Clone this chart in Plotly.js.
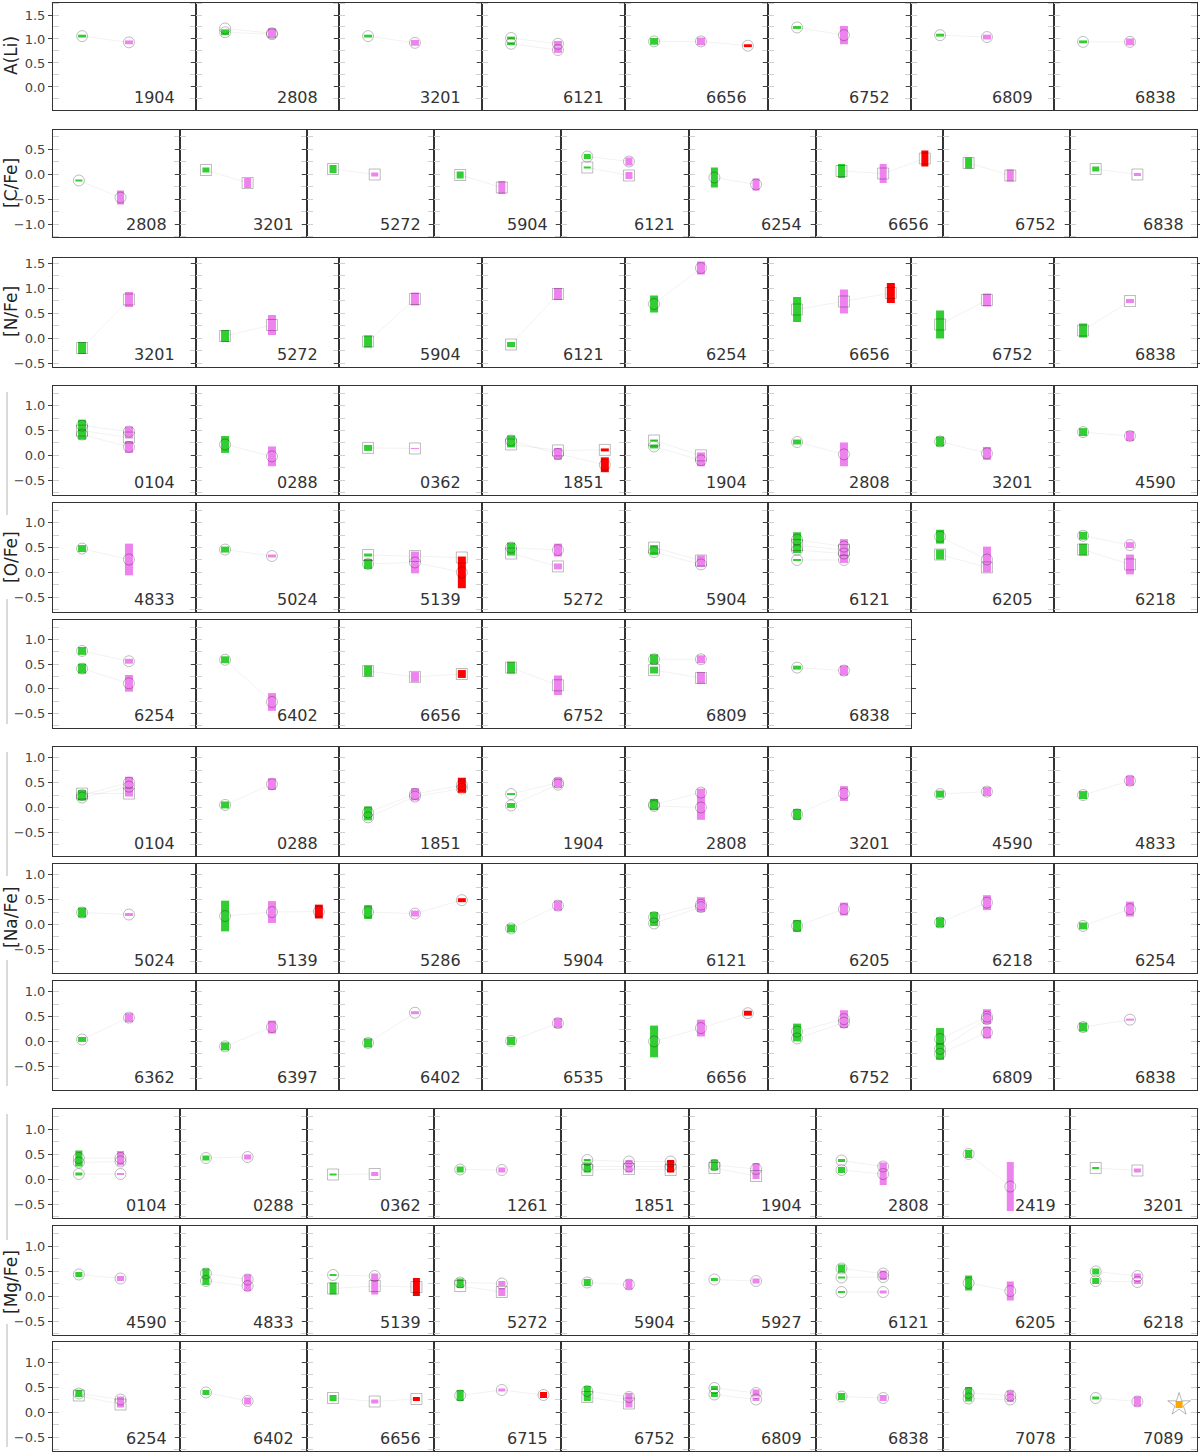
<!DOCTYPE html>
<html>
<head>
<meta charset="utf-8">
<script src="https://cdn.plot.ly/plotly-3.0.1.min.js"></script>
<style>
  body { margin: 0; background: #fff; }
  #chart { width: 1200px; height: 1452px; }
</style>
</head>
<body>
<div id="chart"></div>
<script>
// Each study: [symbol, P1 value, P1 half-range, P2 value, P2 half-range, P3 value, P3 half-range]
// symbol 'c' = circle, 's' = square; P3 is optional

const liClusters = ['1904', '2808', '3201', '6121', '6656', '6752', '6809', '6838'];
const liData = [
    [['c', 1.06, 0.03, 0.93, 0.04]],
    [['c', 1.22, 0, 1.12, 0.1], ['c', 1.14, 0.06, 1.10, 0]],
    [['c', 1.06, 0.03, 0.92, 0.06]],
    [['c', 1.02, 0.03, 0.90, 0.06], ['c', 0.90, 0.03, 0.77, 0.06]],
    [['c', 0.95, 0.07, 0.95, 0.08, 0.86, 0.03]],
    [['c', 1.24, 0.03, 1.08, 0.19]],
    [['c', 1.08, 0.03, 1.04, 0.05]],
    [['c', 0.94, 0.03, 0.94, 0.07]]
];

const cClusters = ['2808', '3201', '5272', '5904', '6121', '6254', '6656', '6752', '6838'];
const cData = [
    [['c', -0.13, 0.02, -0.47, 0.14]],
    [['s', 0.08, 0.05, -0.18, 0.1]],
    [['s', 0.1, 0.08, -0.01, 0.04]],
    [['s', -0.02, 0.07, -0.27, 0.13]],
    [['c', 0.35, 0.05, 0.25, 0.08], ['s', 0.13, 0.02, -0.03, 0.07]],
    [['c', -0.07, 0.2, -0.21, 0.12]],
    [['s', 0.06, 0.14, 0.01, 0.19, 0.31, 0.16]],
    [['s', 0.22, 0.11, -0.03, 0.12]],
    [['s', 0.1, 0.05, -0.01, 0.03]]
];

const nClusters = ['3201', '5272', '5904', '6121', '6254', '6656', '6752', '6838'];
const nData = [
    [['s', -0.2, 0.12, 0.77, 0.15]],
    [['s', 0.04, 0.12, 0.26, 0.2]],
    [['s', -0.07, 0.12, 0.78, 0.13]],
    [['s', -0.13, 0.05, 0.88, 0.12]],
    [['c', 0.68, 0.17, 1.4, 0.13]],
    [['s', 0.57, 0.25, 0.73, 0.24, 0.9, 0.2]],
    [['s', 0.27, 0.28, 0.76, 0.13]],
    [['s', 0.15, 0.14, 0.74, 0.04]]
];

const oClusters = ['0104', '0288', '0362', '1851', '1904', '2808', '3201', '4590',
    '4833', '5024', '5139', '5272', '5904', '6121', '6205', '6218',
    '6254', '6402', '6656', '6752', '6809', '6838'];
const oData = [
    [['c', 0.6, 0.12, 0.48, 0.1], ['c', 0.42, 0.1, 0.17, 0.12], ['s', 0.5, 0.04, 0.36, 0.02]],
    [['c', 0.22, 0.17, -0.02, 0.2]],
    [['s', 0.15, 0.06, 0.14, 0.01]],
    [['c', 0.3, 0.1, 0.03, 0.12, -0.19, 0.15], ['s', 0.22, 0.06, 0.1, 0.04, 0.11, 0.03]],
    [['s', 0.3, 0.02, 0.0, 0.06], ['c', 0.18, 0.04, -0.1, 0.12]],
    [['c', 0.27, 0.05, 0.02, 0.24]],
    [['c', 0.28, 0.1, 0.04, 0.13]],
    [['c', 0.47, 0.08, 0.39, 0.1]],
    [['c', 0.48, 0.07, 0.26, 0.32]],
    [['c', 0.46, 0.06, 0.33, 0.03]],
    [['c', 0.17, 0.1, 0.2, 0.22, 0.0, 0.32], ['s', 0.35, 0.03, 0.33, 0, 0.3, 0]],
    [['c', 0.5, 0.1, 0.45, 0.13], ['s', 0.38, 0.04, 0.12, 0.06]],
    [['s', 0.5, 0.05, 0.24, 0.1], ['c', 0.41, 0.06, 0.16, 0.05]],
    [['c', 0.66, 0.15, 0.52, 0.15], ['c', 0.45, 0.06, 0.38, 0.12], ['c', 0.25, 0.02, 0.25, 0.06], ['s', 0.55, 0.05, 0.45, 0.05]],
    [['c', 0.72, 0.14, 0.26, 0.26], ['s', 0.36, 0.1, 0.1, 0.05]],
    [['c', 0.74, 0.08, 0.55, 0.06], ['s', 0.46, 0.12, 0.16, 0.2]],
    [['c', 0.77, 0.08, 0.56, 0.05], ['c', 0.41, 0.1, 0.11, 0.17]],
    [['c', 0.59, 0.07, -0.27, 0.18]],
    [['s', 0.36, 0.11, 0.24, 0.1, 0.3, 0.08]],
    [['s', 0.43, 0.12, 0.07, 0.2]],
    [['c', 0.6, 0.1, 0.6, 0.08], ['s', 0.38, 0.07, 0.22, 0.12]],
    [['c', 0.43, 0.04, 0.37, 0.1]]
];

const naClusters = ['0104', '0288', '1851', '1904', '2808', '3201', '4590', '4833',
    '5024', '5139', '5286', '5904', '6121', '6205', '6218', '6254',
    '6362', '6397', '6402', '6535', '6656', '6752', '6809', '6838'];
const naData = [
    [['c', 0.25, 0.1, 0.5, 0.12], ['c', 0.2, 0.06, 0.42, 0.1], ['s', 0.28, 0.04, 0.28, 0.06]],
    [['c', 0.05, 0.07, 0.47, 0.12]],
    [['c', -0.1, 0.12, 0.27, 0.12, 0.45, 0.15], ['c', -0.2, 0.06, 0.22, 0.08, 0.38, 0.08]],
    [['c', 0.27, 0.02, 0.5, 0.1], ['c', 0.04, 0.05, 0.46, 0.05]],
    [['c', 0.06, 0.11, 0.3, 0.08], ['c', 0.03, 0.05, 0.0, 0.25]],
    [['c', -0.14, 0.11, 0.28, 0.15]],
    [['c', 0.27, 0.07, 0.32, 0.09]],
    [['c', 0.25, 0.08, 0.54, 0.1]],
    [['c', 0.24, 0.1, 0.2, 0.03]],
    [['c', 0.17, 0.31, 0.25, 0.22, 0.26, 0.14]],
    [['c', 0.25, 0.14, 0.22, 0.06, 0.49, 0.04]],
    [['c', -0.08, 0.08, 0.38, 0.1]],
    [['c', 0.15, 0.1, 0.4, 0.15], ['c', 0.02, 0.05, 0.35, 0.08]],
    [['c', -0.03, 0.12, 0.31, 0.13]],
    [['c', 0.04, 0.1, 0.44, 0.15]],
    [['c', -0.03, 0.07, 0.31, 0.15]],
    [['c', 0.04, 0.05, 0.48, 0.09]],
    [['c', -0.1, 0.08, 0.29, 0.13]],
    [['c', -0.03, 0.09, 0.58, 0.03]],
    [['c', 0.01, 0.08, 0.37, 0.1]],
    [['c', 0.0, 0.32, 0.27, 0.17, 0.57, 0.05]],
    [['c', 0.2, 0.16, 0.45, 0.18], ['c', 0.06, 0.06, 0.38, 0.08]],
    [['c', 0.05, 0.22, 0.5, 0.15], ['c', -0.15, 0.1, 0.45, 0.08], ['c', -0.25, 0.12, 0.18, 0.12]],
    [['c', 0.29, 0.09, 0.44, 0.02]]
];

const mgClusters = ['0104', '0288', '0362', '1261', '1851', '1904', '2808', '2419', '3201',
    '4590', '4833', '5139', '5272', '5904', '5927', '6121', '6205', '6218',
    '6254', '6402', '6656', '6715', '6752', '6809', '6838', '7078', '7089'];
const mgData = [
    [['c', 0.42, 0.15, 0.42, 0.14], ['c', 0.33, 0.08, 0.35, 0.08], ['c', 0.1, 0.03, 0.1, 0.02]],
    [['c', 0.42, 0.05, 0.44, 0.05]],
    [['s', 0.09, 0.02, 0.1, 0.04]],
    [['c', 0.19, 0.06, 0.18, 0.05]],
    [['c', 0.38, 0.02, 0.35, 0.03, 0.35, 0.03], ['c', 0.25, 0.08, 0.25, 0.12, 0.25, 0.12], ['s', 0.18, 0.05, 0.2, 0.03, 0.18, 0.03]],
    [['c', 0.28, 0.11, 0.2, 0.12], ['s', 0.22, 0.04, 0.06, 0.06]],
    [['c', 0.37, 0.03, 0.25, 0.08], ['c', 0.18, 0.06, 0.1, 0.22]],
    [['c', 0.5, 0.08, -0.15, 0.49]],
    [['s', 0.22, 0.02, 0.17, 0.04]],
    [['c', 0.43, 0.05, 0.35, 0.05]],
    [['c', 0.45, 0.1, 0.33, 0.1], ['c', 0.3, 0.08, 0.2, 0.1]],
    [['c', 0.42, 0.02, 0.4, 0.05], ['s', 0.15, 0.12, 0.2, 0.17, 0.18, 0.18]],
    [['c', 0.27, 0.08, 0.25, 0.05], ['s', 0.2, 0.04, 0.08, 0.08]],
    [['c', 0.27, 0.07, 0.23, 0.1]],
    [['c', 0.33, 0.03, 0.3, 0.05]],
    [['c', 0.55, 0.08, 0.45, 0.06], ['c', 0.37, 0.02, 0.38, 0.06], ['c', 0.08, 0.02, 0.08, 0.03]],
    [['c', 0.26, 0.15, 0.1, 0.19]],
    [['c', 0.49, 0.06, 0.4, 0.05], ['c', 0.3, 0.06, 0.28, 0.04]],
    [['c', 0.37, 0.07, 0.25, 0.06], ['s', 0.33, 0.02, 0.15, 0.06]],
    [['c', 0.39, 0.05, 0.22, 0.07]],
    [['s', 0.28, 0.06, 0.21, 0.04, 0.26, 0.04]],
    [['c', 0.33, 0.11, 0.44, 0.03, 0.34, 0.06]],
    [['c', 0.42, 0.1, 0.3, 0.08], ['s', 0.3, 0.08, 0.17, 0.08]],
    [['c', 0.48, 0.04, 0.38, 0.07], ['c', 0.35, 0.05, 0.25, 0.03]],
    [['c', 0.31, 0.07, 0.28, 0.06]],
    [['c', 0.38, 0.12, 0.33, 0.1], ['c', 0.27, 0.06, 0.25, 0.05]],
    [['c', 0.28, 0.03, 0.21, 0.1]]
];

// single extra point (star) in the last Mg panel
const starCluster = '7089';
const starValue = [0.15];

// ---------- panel rows (pixel layout) ----------
const W = 1200, H = 1452;
const LEFT = 53, RIGHT = 1197;
const popColors = ['#32cd32', '#ee82ee', '#ff0000'];

const rowSpecs = [
    { clusters: liClusters, data: liData, top: 3, bottom: 110, range: [-0.48, 1.75], ncol: 8 },
    { clusters: cClusters, data: cData, top: 130, bottom: 237, range: [-1.26, 0.88], ncol: 9 },
    { clusters: nClusters, data: nData, top: 258, bottom: 367, range: [-0.58, 1.6], ncol: 8 },
    { clusters: oClusters.slice(0, 8), data: oData.slice(0, 8), top: 386, bottom: 495, range: [-0.8, 1.4], ncol: 8 },
    { clusters: oClusters.slice(8, 16), data: oData.slice(8, 16), top: 503, bottom: 612, range: [-0.8, 1.4], ncol: 8 },
    { clusters: oClusters.slice(16), data: oData.slice(16), top: 620, bottom: 728, range: [-0.8, 1.4], ncol: 8 },
    { clusters: naClusters.slice(0, 8), data: naData.slice(0, 8), top: 747, bottom: 856, range: [-0.98, 1.22], ncol: 8 },
    { clusters: naClusters.slice(8, 16), data: naData.slice(8, 16), top: 864, bottom: 973, range: [-0.98, 1.22], ncol: 8 },
    { clusters: naClusters.slice(16), data: naData.slice(16), top: 981, bottom: 1090, range: [-0.98, 1.22], ncol: 8 },
    { clusters: mgClusters.slice(0, 9), data: mgData.slice(0, 9), top: 1109, bottom: 1218, range: [-0.78, 1.4], ncol: 9 },
    { clusters: mgClusters.slice(9, 18), data: mgData.slice(9, 18), top: 1226, bottom: 1335, range: [-0.78, 1.4], ncol: 9 },
    { clusters: mgClusters.slice(18), data: mgData.slice(18), top: 1342, bottom: 1451, range: [-0.78, 1.4], ncol: 9 }
];

const traces = [];
const layout = {
    width: W,
    height: H,
    margin: { l: 0, r: 0, t: 0, b: 0 },
    showlegend: false,
    paper_bgcolor: '#ffffff',
    plot_bgcolor: '#ffffff',
    font: { family: 'DejaVu Sans', color: '#333' },
    annotations: [],
    shapes: []
};

let k = 0;
rowSpecs.forEach((row, r) => {
    const pw = (RIGHT - LEFT) / row.ncol;
    const barW = row.ncol === 9 ? 7 : 8;
    row.clusters.forEach((cluster, i) => {
        k++;
        const sfx = k === 1 ? '' : String(k);
        const xid = 'x' + sfx, yid = 'y' + sfx;
        const left = LEFT + i * pw;

        layout['xaxis' + sfx] = {
            domain: [left / W, (left + pw) / W],
            anchor: yid,
            range: [0.38, 3.43],
            showticklabels: false,
            ticks: '',
            showgrid: false,
            zeroline: false,
            showline: true,
            mirror: true,
            linecolor: '#333',
            linewidth: 1
        };
        layout['yaxis' + sfx] = {
            domain: [1 - row.bottom / H, 1 - row.top / H],
            anchor: xid,
            range: row.range,
            tick0: 0,
            dtick: 0.5,
            tickformat: '.1f',
            ticks: 'outside',
            ticklen: 4,
            tickcolor: '#444',
            minor: { dtick: 0.25, ticks: 'inside', ticklen: 6, tickcolor: '#d0d0d0' },
            showticklabels: i === 0,
            tickfont: { size: 13, color: '#444' },
            showgrid: false,
            zeroline: false,
            showline: true,
            mirror: 'ticks',
            linecolor: '#333',
            linewidth: 1
        };

        const studies = row.data[i];

        // faint connecting lines for each study
        const lx = [], ly = [];
        studies.forEach((s) => {
            for (let p = 0; p < 3; p++) {
                const v = s[1 + 2 * p];
                if (v !== undefined && v !== null) { lx.push(p + 1); ly.push(v); }
            }
            lx.push(null); ly.push(null);
        });
        traces.push({
            x: lx, y: ly, xaxis: xid, yaxis: yid,
            type: 'scatter', mode: 'lines', hoverinfo: 'skip',
            line: { color: 'rgba(0,0,0,0.055)', width: 1 }
        });

        // population boxes drawn as thick error bars
        for (let p = 0; p < 3; p++) {
            const bx = [], by = [], be = [];
            studies.forEach((s) => {
                const v = s[1 + 2 * p];
                if (v !== undefined && v !== null) { bx.push(p + 1); by.push(v); be.push(s[2 + 2 * p]); }
            });
            if (!bx.length) continue;
            traces.push({
                x: bx, y: by, xaxis: xid, yaxis: yid,
                type: 'scatter', mode: 'markers', hoverinfo: 'skip',
                marker: { size: 2, opacity: 0 },
                error_y: { type: 'data', array: be, symmetric: true, visible: true, thickness: barW, width: 0, color: popColors[p] }
            });
        }

        // open grey markers (circle / square per source)
        ['c', 's'].forEach((sym) => {
            const mx = [], my = [];
            studies.filter((s) => s[0] === sym).forEach((s) => {
                for (let p = 0; p < 3; p++) {
                    const v = s[1 + 2 * p];
                    if (v !== undefined && v !== null) { mx.push(p + 1); my.push(v); }
                }
            });
            if (!mx.length) return;
            traces.push({
                x: mx, y: my, xaxis: xid, yaxis: yid,
                type: 'scatter', mode: 'markers', hoverinfo: 'skip',
                marker: {
                    symbol: sym === 'c' ? 'circle-open' : 'square-open',
                    size: 11,
                    color: 'rgba(0,0,0,0.26)',
                    line: { width: 1 }
                }
            });
        });

        if (r === rowSpecs.length - 1 && cluster === starCluster) {
            traces.push({
                x: [3], y: starValue, xaxis: xid, yaxis: yid,
                type: 'scatter', mode: 'markers', hoverinfo: 'skip',
                marker: { symbol: 'square', size: 7, color: '#ffa500' }
            });
            traces.push({
                x: [3], y: starValue, xaxis: xid, yaxis: yid,
                type: 'scatter', mode: 'markers', hoverinfo: 'skip',
                marker: { symbol: 'star-open', size: 17, color: 'rgba(0,0,0,0.28)', line: { width: 1 } }
            });
        }

        layout.annotations.push({
            text: cluster,
            xref: xid + ' domain', yref: yid + ' domain',
            x: row.ncol === 9 ? 0.91 : 0.865, y: 0.01,
            xanchor: 'right', yanchor: 'bottom',
            showarrow: false,
            font: { size: 16, color: '#333' }
        });
    });
});

// y titles
const yTitles = [
    { text: 'A(Li)', center: 56 },
    { text: '[C/Fe]', center: 183 },
    { text: '[N/Fe]', center: 312 },
    { text: '[O/Fe]', center: 557, group: [392, 724] },
    { text: '[Na/Fe]', center: 918, group: [752, 1086] },
    { text: '[Mg/Fe]', center: 1282, group: [1114, 1447] }
];
yTitles.forEach((t) => {
    layout.annotations.push({
        text: t.text, xref: 'paper', yref: 'paper',
        x: 11 / W, y: 1 - t.center / H,
        xanchor: 'center', yanchor: 'middle',
        textangle: -90, showarrow: false,
        font: { size: 17, color: '#222' }
    });
    if (t.group) {
        const gap = 42;
        layout.shapes.push({
            type: 'line', xref: 'paper', yref: 'paper',
            x0: 7 / W, x1: 7 / W, y0: 1 - t.group[0] / H, y1: 1 - (t.center - gap) / H,
            line: { color: '#b5b5b5', width: 1 }
        });
        layout.shapes.push({
            type: 'line', xref: 'paper', yref: 'paper',
            x0: 7 / W, x1: 7 / W, y0: 1 - (t.center + gap) / H, y1: 1 - t.group[1] / H,
            line: { color: '#b5b5b5', width: 1 }
        });
    }
});

Plotly.newPlot('chart', traces, layout, { staticPlot: true });
</script>
</body>
</html>
